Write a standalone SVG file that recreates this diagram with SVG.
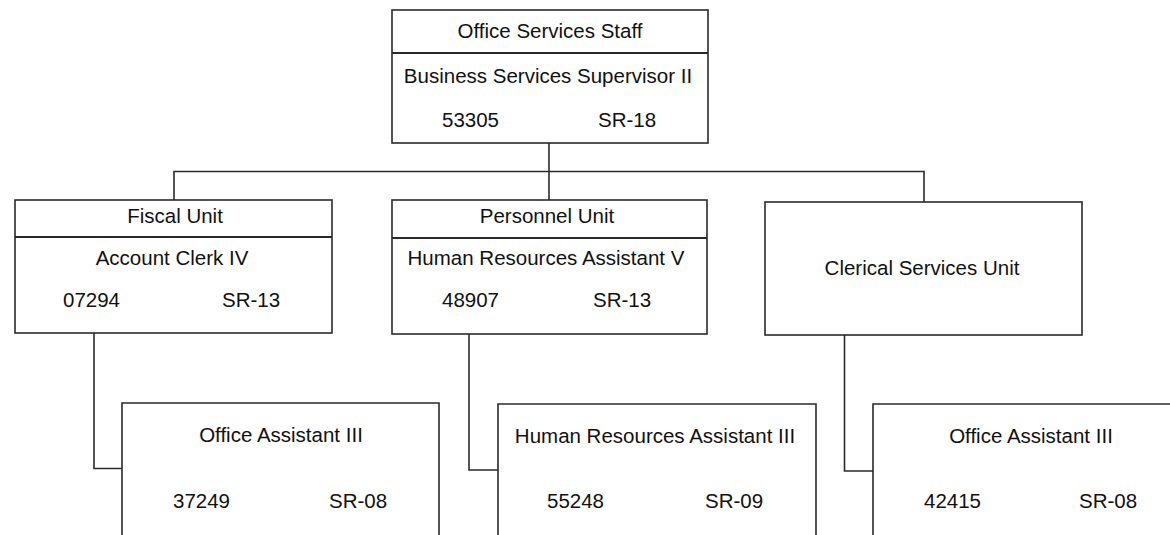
<svg xmlns="http://www.w3.org/2000/svg" width="1170" height="535" viewBox="0 0 1170 535">
<style>
.box{fill:#fff;stroke:#2a2a2a;stroke-width:1.6}
.div{stroke:#2a2a2a;stroke-width:2}
.conn{fill:none;stroke:#2a2a2a;stroke-width:1.6}
text{font-family:"Liberation Sans",Arial,sans-serif;font-size:20.5px;fill:#111}
.c{text-anchor:middle}
</style>
<rect width="1170" height="535" fill="#fff"/>
<g id="connectors">
<path class="conn" d="M549,143 V201"/>
<path class="conn" d="M174,201 V171.5 H924 V202"/>
<path class="conn" d="M94,333 V468.5 H122"/>
<path class="conn" d="M469,334 V470 H498"/>
<path class="conn" d="M844.5,335 V471 H873"/>
</g>
<g id="office-services-staff">
<rect class="box" x="392" y="10" width="316" height="133"/>
<line class="div" x1="392" y1="53" x2="708" y2="53"/>
<text class="c" x="550" y="38">Office Services Staff</text>
<text class="c" x="548" y="83">Business Services Supervisor II</text>
<text x="442" y="127">53305</text>
<text x="598" y="127">SR-18</text>
</g>
<g id="fiscal-unit">
<rect class="box" x="15" y="200" width="317" height="133"/>
<line class="div" x1="15" y1="237" x2="332" y2="237"/>
<text class="c" x="175" y="223">Fiscal Unit</text>
<text class="c" x="172" y="265">Account Clerk IV</text>
<text x="63" y="307">07294</text>
<text x="222" y="307">SR-13</text>
</g>
<g id="personnel-unit">
<rect class="box" x="392" y="200" width="315" height="134"/>
<line class="div" x1="392" y1="238" x2="707" y2="238"/>
<text class="c" x="547" y="223">Personnel Unit</text>
<text class="c" x="546" y="265">Human Resources Assistant V</text>
<text x="442" y="307">48907</text>
<text x="593" y="307">SR-13</text>
</g>
<g id="clerical-services-unit">
<rect class="box" x="765" y="202" width="317" height="133"/>
<text class="c" x="922" y="275">Clerical Services Unit</text>
</g>
<g id="office-assistant-fiscal">
<path class="box" d="M122,540 V403 H439 V540"/>
<text class="c" x="281" y="442">Office Assistant III</text>
<text x="173" y="508">37249</text>
<text x="329" y="508">SR-08</text>
</g>
<g id="hr-assistant-iii">
<path class="box" d="M498,540 V404 H816 V540"/>
<text class="c" x="655" y="443">Human Resources Assistant III</text>
<text x="547" y="508">55248</text>
<text x="705" y="508">SR-09</text>
</g>
<g id="office-assistant-clerical">
<path class="box" d="M873,540 V404 H1172"/>
<text class="c" x="1031" y="443">Office Assistant III</text>
<text x="924" y="508">42415</text>
<text x="1079" y="508">SR-08</text>
</g>
</svg>
